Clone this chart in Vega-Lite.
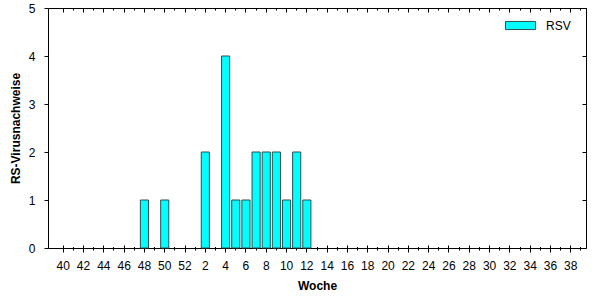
{
  "$schema": "https://vega.github.io/schema/vega-lite/v6.json",
  "width": 538,
  "height": 240,
  "autosize": {"type": "none"},
  "padding": {"left": 48, "top": 8, "right": 16, "bottom": 52},
  "background": "white",
  "config": {
    "view": {"stroke": "black", "strokeWidth": 1},
    "font": "Liberation Sans",
    "axis": {
      "grid": false,
      "domain": false,
      "tickColor": "black",
      "tickWidth": 1,
      "labelColor": "black",
      "labelFont": "Liberation Sans",
      "labelFontSize": 12,
      "titleFont": "Liberation Sans",
      "titleFontSize": 12,
      "titleFontWeight": "bold",
      "titleColor": "black"
    }
  },
  "data": {
    "values": [
      {"Woche": 48, "Anzahl": 1, "Virus": "RSV"},
      {"Woche": 50, "Anzahl": 1, "Virus": "RSV"},
      {"Woche": 2, "Anzahl": 2, "Virus": "RSV"},
      {"Woche": 4, "Anzahl": 4, "Virus": "RSV"},
      {"Woche": 5, "Anzahl": 1, "Virus": "RSV"},
      {"Woche": 6, "Anzahl": 1, "Virus": "RSV"},
      {"Woche": 7, "Anzahl": 2, "Virus": "RSV"},
      {"Woche": 8, "Anzahl": 2, "Virus": "RSV"},
      {"Woche": 9, "Anzahl": 2, "Virus": "RSV"},
      {"Woche": 10, "Anzahl": 1, "Virus": "RSV"},
      {"Woche": 11, "Anzahl": 2, "Virus": "RSV"},
      {"Woche": 12, "Anzahl": 1, "Virus": "RSV"}
    ]
  },
  "layer": [
    {
      "mark": {"type": "bar", "stroke": "#2F4F4F", "strokeWidth": 1},
      "encoding": {
        "x": {
          "field": "Woche",
          "type": "ordinal",
          "sort": null,
          "scale": {
            "domain": [40,41,42,43,44,45,46,47,48,49,50,51,52,1,2,3,4,5,6,7,8,9,10,11,12,13,14,15,16,17,18,19,20,21,22,23,24,25,26,27,28,29,30,31,32,33,34,35,36,37,38,39],
            "paddingInner": 0.2,
            "paddingOuter": 0.6,
            "align": 0.9167
          },
          "axis": {
            "orient": "bottom",
            "title": "Woche",
            "labelAngle": 0,
            "bandPosition": 0.5,
            "tickSize": {"condition": {"test": "datum.value % 2 === 0", "value": 4}, "value": 2},
            "labelExpr": "datum.value % 2 === 0 ? datum.label : ''",
            "labelOverlap": false,
            "labelPadding": 8,
            "titlePadding": 9
          }
        },
        "y": {
          "field": "Anzahl",
          "type": "quantitative",
          "scale": {"domain": [0, 5]},
          "axis": {
            "title": "RS-Virusnachweise",
            "values": [0, 1, 2, 3, 4, 5],
            "tickSize": 4,
            "labelPadding": 9,
            "titlePadding": 6
          }
        },
        "color": {
          "field": "Virus",
          "type": "nominal",
          "scale": {"range": ["#00FFFF"]},
          "legend": {
            "title": null,
            "orient": "none",
            "legendX": 457,
            "legendY": 2,
            "padding": 0,
            "symbolType": "M-1,-0.27H1V0.27H-1Z",
            "symbolSize": 900,
            "symbolStrokeColor": "#2F4F4F",
            "symbolStrokeWidth": 1,
            "symbolOpacity": 1,
            "labelFont": "Liberation Sans",
            "labelFontSize": 12,
            "labelColor": "black",
            "labelOffset": 10
          }
        }
      }
    },
    {
      "mark": {"type": "bar", "opacity": 0},
      "encoding": {
        "x": {
          "field": "Woche",
          "type": "ordinal",
          "sort": null,
          "axis": {
            "orient": "bottom",
            "title": null,
            "labels": false,
            "bandPosition": 0.5,
            "tickSize": {"condition": {"test": "datum.value % 2 === 0", "value": -3}, "value": -1.5}
          }
        },
        "y": {
          "field": "Anzahl",
          "type": "quantitative",
          "axis": {"title": null, "labels": false, "values": [0, 1, 2, 3, 4, 5], "tickSize": -4}
        }
      }
    },
    {
      "mark": {"type": "bar", "opacity": 0},
      "encoding": {
        "x": {
          "field": "Woche",
          "type": "ordinal",
          "sort": null,
          "axis": {
            "orient": "top",
            "title": null,
            "labels": false,
            "bandPosition": 0.5,
            "tickSize": {"condition": {"test": "datum.value % 2 === 0", "value": -4}, "value": -2}
          }
        },
        "y": {"field": "Anzahl", "type": "quantitative", "axis": null}
      }
    }
  ],
  "resolve": {"axis": {"x": "independent", "y": "independent"}}
}
